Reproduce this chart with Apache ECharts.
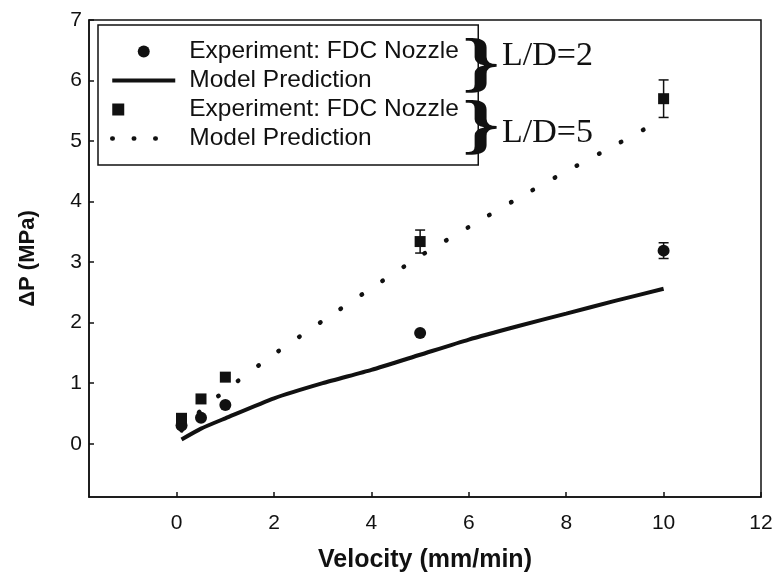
<!DOCTYPE html>
<html><head><meta charset="utf-8">
<script src="https://cdn.jsdelivr.net/npm/echarts@6/dist/echarts.min.js"></script>
<style>html,body{margin:0;padding:0;background:#fff}#c{width:776px;height:580px}</style>
</head><body><div id="c"></div>
<script>
const velocity = [0.1, 0.5, 1, 5, 10];
const expLD2 = [0.30, 0.43, 0.64, 1.83, 3.19];
const errLD2 = [0, 0, 0, 0, 0.13];
const expLD5 = [0.42, 0.74, 1.10, 3.34, 5.70];
const errLD5 = [0, 0, 0, 0.19, 0.31];
const modelVelocity = [0.1, 0.5, 1, 2, 3, 4, 5, 6, 7, 8, 9, 10];
const modelLD2 = [0.07, 0.25, 0.42, 0.75, 1.00, 1.22, 1.47, 1.72, 1.94, 2.15, 2.36, 2.56];
const modelLD5 = [0.22, 0.55, 0.88, 1.48, 2.03, 2.57, 3.10, 3.58, 4.05, 4.50, 4.93, 5.37];
const xTicks = [0, 2, 4, 6, 8, 10, 12];
const yTicks = [0, 1, 2, 3, 4, 5, 6, 7];
const seriesIds = ['expLD2', 'modelLD2', 'expLD5', 'modelLD5'];
const legendLabels = ['Experiment: FDC Nozzle', 'Model Prediction', 'Experiment: FDC Nozzle', 'Model Prediction'];
const groupLabels = ['L/D=2', 'L/D=5'];

const ink = '#111';
const sans = 'Liberation Sans';
const serif = 'Liberation Serif';

const errData = [];
velocity.forEach((v, i) => {
  if (errLD2[i] > 0) errData.push([v, expLD2[i], errLD2[i]]);
  if (errLD5[i] > 0) errData.push([v, expLD5[i], errLD5[i]]);
});

function brace(y) {
  return { type: 'text', z: 100, x: 462, y: y, scaleX: 1.45,
    style: { x: 0, y: 0, text: '}', fontFamily: serif, fontSize: 66, fontWeight: 'bold', fill: ink, align: 'left', verticalAlign: 'middle' } };
}

const chart = echarts.init(document.getElementById('c'));
chart.setOption({
  animation: false,
  backgroundColor: '#fff',
  grid: { left: 89, right: 15, top: 20, bottom: 83, show: true, borderColor: ink, borderWidth: 1.5 },
  xAxis: {
    type: 'value', min: -1.8, max: 12,
    axisLine: { onZero: false, lineStyle: { color: ink, width: 1.5 } },
    axisTick: { inside: true, length: 5, customValues: xTicks, lineStyle: { color: ink, width: 1.5 } },
    axisLabel: { customValues: xTicks, fontFamily: sans, fontSize: 21, color: ink, margin: 16 },
    splitLine: { show: false },
    name: 'Velocity (mm/min)', nameLocation: 'middle', nameGap: 51,
    nameTextStyle: { fontFamily: sans, fontWeight: 'bold', fontSize: 25, color: ink }
  },
  yAxis: {
    type: 'value', min: -0.88, max: 7,
    axisLine: { onZero: false, lineStyle: { color: ink, width: 1.5 } },
    axisTick: { inside: true, length: 5, customValues: yTicks, lineStyle: { color: ink, width: 1.5 } },
    axisLabel: { customValues: yTicks, fontFamily: sans, fontSize: 21, color: ink, margin: 7 },
    splitLine: { show: false },
    name: 'ΔP (MPa)', nameLocation: 'middle', nameGap: 50,
    nameTextStyle: { fontFamily: sans, fontWeight: 'bold', fontSize: 22, color: ink }
  },
  legend: {
    data: [
      { name: 'expLD2', icon: 'circle' },
      { name: 'modelLD2', lineStyle: { width: 4, color: ink, opacity: 1 } },
      { name: 'expLD5', icon: 'square' },
      { name: 'modelLD5', lineStyle: { type: [0.5, 21], cap: 'round', width: 4.5, color: ink, opacity: 1 } }
    ],
    orient: 'vertical', left: 98, top: 25,
    padding: [14, 12, 14, 12],
    itemWidth: 63, itemHeight: 12, itemGap: 4,
    borderColor: ink, borderWidth: 1.5, backgroundColor: '#fff',
    selectedMode: false,
    formatter: n => legendLabels[seriesIds.indexOf(n)],
    textStyle: { fontFamily: sans, fontSize: 24.5, color: ink, lineHeight: 25, padding: [0, 0, 0, 9], width: 277 }
  },
  graphic: [
    brace(67),
    brace(129),
    { type: 'text', z: 100, style: { x: 502, y: 56, text: groupLabels[0], fontFamily: serif, fontSize: 34, fill: ink, align: 'left', verticalAlign: 'middle' } },
    { type: 'text', z: 100, style: { x: 502, y: 133, text: groupLabels[1], fontFamily: serif, fontSize: 34, fill: ink, align: 'left', verticalAlign: 'middle' } }
  ],
  series: [
    {
      id: 'expLD2', name: 'expLD2', type: 'scatter', z: 5,
      data: velocity.map((v, i) => [v, expLD2[i]]),
      symbol: 'circle', symbolSize: 12, itemStyle: { color: ink, opacity: 1 }
    },
    {
      id: 'modelLD2', name: 'modelLD2', type: 'line', z: 3,
      data: modelVelocity.map((v, i) => [v, modelLD2[i]]),
      symbol: 'none', smooth: 0.2, lineStyle: { color: ink, width: 4 }, itemStyle: { color: ink, opacity: 0 }
    },
    {
      id: 'expLD5', name: 'expLD5', type: 'scatter', z: 5,
      data: velocity.map((v, i) => [v, expLD5[i]]),
      symbol: 'rect', symbolSize: 11, itemStyle: { color: ink, opacity: 1 }
    },
    {
      id: 'modelLD5', name: 'modelLD5', type: 'line', z: 3,
      data: modelVelocity.map((v, i) => [v, modelLD5[i]]),
      symbol: 'none', smooth: 0.2,
      lineStyle: { color: ink, width: 4.5, type: [0.5, 24.6], cap: 'round' }, itemStyle: { color: ink, opacity: 0 }
    },
    {
      type: 'custom', z: 4,
      data: errData,
      renderItem: (params, api) => {
        const x = api.value(0), y = api.value(1), e = api.value(2);
        const t = api.coord([x, y + e]), b = api.coord([x, y - e]);
        const hw = 5, st = { stroke: ink, lineWidth: 1.5 };
        return {
          type: 'group', children: [
            { type: 'line', shape: { x1: t[0], y1: t[1], x2: b[0], y2: b[1] }, style: st },
            { type: 'line', shape: { x1: t[0] - hw, y1: t[1], x2: t[0] + hw, y2: t[1] }, style: st },
            { type: 'line', shape: { x1: b[0] - hw, y1: b[1], x2: b[0] + hw, y2: b[1] }, style: st }
          ]
        };
      }
    }
  ]
});
</script></body></html>
